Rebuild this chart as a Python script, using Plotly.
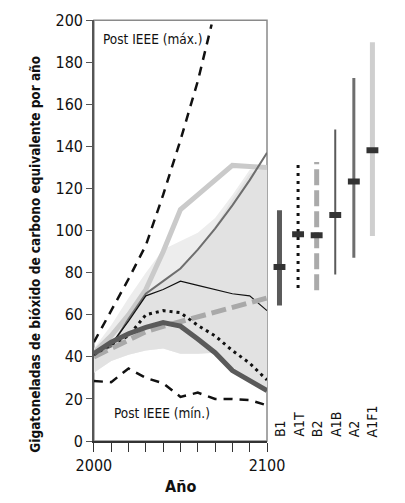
import plotly.graph_objects as go

years = [2000, 2010, 2020, 2030, 2040, 2050, 2060, 2070, 2080, 2090, 2100]

# Scenario lines (Gt CO2-eq / year)
a1f1 = [42, 50, 60, 72, 90, 110, 117, 124, 131, 130.5, 130]
a2 = [41, 45, 58, 70, 76, 82, 91, 101, 112, 124, 137]
a1b = [41, 46, 57, 69, 72, 76, 74, 72, 70, 69, 62]
b1 = [41.5, 47, 51, 54, 56.3, 54.6, 48.5, 42, 33.5, 28.5, 24]
a1t = [41, 46, 50, 60, 62, 61, 55, 50, 43, 37, 29]
b2 = [40, 44, 48, 52, 54.5, 56.7, 59, 61.3, 63.6, 65.9, 68]

# Post-IEEE envelope
max_years = [2000, 2010, 2020, 2030, 2040, 2050, 2060, 2068]
post_max = [47, 62, 77, 93, 117, 143, 171, 198]
post_min = [28.5, 28, 34.5, 30, 27.5, 21, 23, 20, 20, 19.5, 17]

# Shaded range of other scenarios
shade_upper_outer = [44, 55, 68, 80, 91, 95, 99, 106, 117, 129, 131]
shade_upper_inner = [42, 46, 58, 70, 76, 82, 91, 102, 115, 127, 130]
shade_lower = [32.5, 38, 41, 43, 44, 41.5, 41.5, 42, 33.5, 28.5, 24]

# Ranges on the right (2100)
scen = ["B1", "A1T", "B2", "A1B", "A2", "A1F1"]
rng_low = [64.4, 72.8, 71.7, 79.2, 87.1, 97.5]
rng_high = [109.7, 131.8, 132.6, 148.1, 172.5, 189.5]
rng_med = [82.7, 98.3, 97.8, 107.4, 123.4, 138.2]

FONT = "DejaVu Sans Condensed, Liberation Sans Narrow, sans-serif"

fig = go.Figure()

# shaded bands
fig.add_trace(go.Scatter(x=years + years[::-1], y=shade_upper_outer + shade_lower[::-1],
                         fill="toself", fillcolor="#ededed", line=dict(width=0),
                         mode="lines", hoverinfo="skip", showlegend=False))
fig.add_trace(go.Scatter(x=years + years[::-1], y=shade_upper_inner + shade_lower[::-1],
                         fill="toself", fillcolor="#e2e2e2", line=dict(width=0),
                         mode="lines", hoverinfo="skip", showlegend=False))

def line(x, y, color, width, dash="solid"):
    fig.add_trace(go.Scatter(x=x, y=y, mode="lines",
                             line=dict(color=color, width=width, dash=dash),
                             hoverinfo="skip", showlegend=False))

line(years, a1f1, "#cacaca", 5)
line(years, a2, "#6e6e6e", 2)
line(years, a1b, "#111111", 1.2)
line(years, b2, "#a9a9a9", 5, "15px,6px")
line(years, a1t, "#111111", 3, "3px,4px")
line(years, b1, "#5a5a5a", 5)
line(max_years, post_max, "#111111", 2.5, "9px,7px")
line(years, post_min, "#111111", 2.5, "9px,7px")

# right-hand ranges
styles = [
    dict(color="#5a5a5a", width=5, dash="solid"),
    dict(color="#111111", width=3, dash="3px,5px"),
    dict(color="#aaaaaa", width=5, dash="16px,5px"),
    dict(color="#5a5a5a", width=2, dash="solid"),
    dict(color="#6e6e6e", width=3, dash="solid"),
    dict(color="#cfcfcf", width=5, dash="solid"),
]
for i, s in enumerate(scen):
    fig.add_trace(go.Scatter(x=[i, i], y=[rng_low[i], rng_high[i]], xaxis="x2", yaxis="y",
                             mode="lines", line=styles[i], hoverinfo="skip", showlegend=False))
    fig.add_trace(go.Scatter(x=[i - 0.32, i + 0.32], y=[rng_med[i], rng_med[i]], xaxis="x2", yaxis="y",
                             mode="lines", line=dict(color="#333333", width=6),
                             hoverinfo="skip", showlegend=False))
    fig.add_annotation(x=i, y=0, xref="x2", yref="y", text=s, textangle=-90,
                       xanchor="center", yanchor="bottom", yshift=2, showarrow=False,
                       font=dict(family=FONT, size=14, color="#111111"))

fig.add_annotation(x=2005, y=191.3, xref="x", yref="y", text="Post IEEE (máx.)",
                   xanchor="left", yanchor="middle", showarrow=False, xshift=-2,
                   font=dict(family=FONT, size=13.5, color="#111111"))
fig.add_annotation(x=2011.4, y=13.3, xref="x", yref="y", text="Post IEEE (mín.)",
                   xanchor="left", yanchor="middle", showarrow=False, xshift=-2,
                   font=dict(family=FONT, size=13.5, color="#111111"))
fig.add_annotation(x=19 / 405, y=1 - 255 / 503, xref="paper", yref="paper",
                   text="<b>Gigatoneladas de bióxido de carbono equivalente por año</b>",
                   textangle=-90, xanchor="center", yanchor="middle", showarrow=False,
                   font=dict(family=FONT, size=13.5, color="#111111"))
fig.add_annotation(x=178.5 / 405, y=1 - 496 / 503, xref="paper", yref="paper",
                   text="<b>Año</b>", xanchor="center", yanchor="middle", showarrow=False,
                   font=dict(family=FONT, size=16, color="#111111"))

# frame
fig.add_shape(type="rect", xref="x domain", yref="y domain", x0=0, x1=1, y0=0, y1=1,
              line=dict(color="#8a8a8a", width=1.5), layer="below")

fig.update_layout(
    width=405, height=503,
    margin=dict(l=0, r=0, t=0, b=0),
    paper_bgcolor="white", plot_bgcolor="white",
    font=dict(family=FONT, color="#111111"),
    xaxis=dict(domain=[83.3 / 405, 273.3 / 405], range=[2000, 2100],
               tickvals=[2000, 2100], ticktext=["2000", "2100"],
               ticks="outside", ticklen=9, tickwidth=1.2, tickcolor="#333333",
               minor=dict(dtick=10, tick0=2000, ticks="outside", ticklen=9, tickwidth=1.2, tickcolor="#333333"),
               showline=True, linecolor="#333333", linewidth=1.5, showgrid=False, zeroline=False,
               tickfont=dict(size=16, family=FONT), anchor="y", ticklabeloverflow="allow"),
    yaxis=dict(domain=[(503 - 449) / 503, (503 - 11.7) / 503], range=[0, 200],
               dtick=20, ticks="outside", ticklen=6, tickwidth=1.2, tickcolor="#555555",
               showline=True, linecolor="#555555", linewidth=1.5, showgrid=False, zeroline=False,
               tickfont=dict(size=16, family=FONT), anchor="x", ticklabeloverflow="allow"),
    xaxis2=dict(domain=[276.8 / 405, 399.2 / 405], range=[-0.5, 5.5], anchor="y",
                showline=False, showticklabels=False, ticks="", showgrid=False, zeroline=False),
)

fig.write_html("out.html")
